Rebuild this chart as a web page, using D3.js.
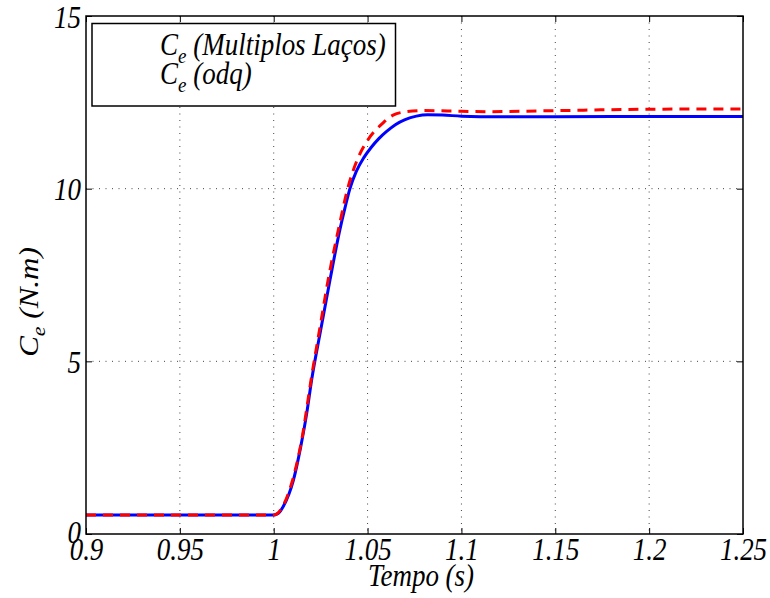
<!DOCTYPE html>
<html><head><meta charset="utf-8">
<script src="https://cdn.jsdelivr.net/npm/d3@7/dist/d3.min.js"></script>
<style>body{margin:0;background:#fff}svg{display:block}
.tx{font-family:"Liberation Serif","Times New Roman",Times,serif;font-style:italic;font-size:27px;fill:#000}
</style>
</head><body><svg id="c" width="770" height="598"></svg>
<script>
const xTicks = [0.9, 0.95, 1, 1.05, 1.1, 1.15, 1.2, 1.25];
const xTickLabels = ["0.9","0.95","1","1.05","1.1","1.15","1.2","1.25"];
const yTicks = [0, 5, 10, 15];
const yTickLabels = ["0","5","10","15"];
const seriesNames = ["(Multiplos Laços)", "(odq)"];
// Ce (Multiplos Laços) - blue solid
const tBlue = [0.9, 1.0, 1.0025, 1.005, 1.0105, 1.0144, 1.0176, 1.0202, 1.025, 1.03, 1.035, 1.038, 1.0406, 1.044, 1.048, 1.052, 1.056, 1.06, 1.065, 1.07, 1.076, 1.082, 1.09, 1.1, 1.12, 1.15, 1.2, 1.25];
const vBlue = [0.55, 0.55, 0.6, 0.79, 1.56, 2.53, 3.5, 4.46, 5.9, 7.36, 8.75, 9.45, 10.0, 10.5, 10.9, 11.2, 11.45, 11.65, 11.86, 12.0, 12.1, 12.14, 12.13, 12.1, 12.08, 12.08, 12.09, 12.09];
// Ce (odq) - red dashed
const tRed = [0.9, 1.0, 1.0025, 1.005, 1.01, 1.015, 1.02, 1.025, 1.029, 1.035, 1.0394, 1.045, 1.05, 1.058, 1.0636, 1.071, 1.08, 1.1, 1.115, 1.15, 1.2, 1.25];
const vRed = [0.55, 0.55, 0.62, 0.82, 1.55, 2.75, 4.5, 6.1, 7.36, 8.95, 10.0, 10.9, 11.4, 11.89, 12.13, 12.23, 12.26, 12.24, 12.23, 12.26, 12.3, 12.31];

const L = 86, R = 743, T = 16, B = 534;
const S = 1.15; // vertical stretch of the exported text
const svg = d3.select("#c");
const x = d3.scaleLinear().domain([0.9, 1.25]).range([L, R]);
const y = d3.scaleLinear().domain([0, 15]).range([B, T]);

const g = svg.append("g");
xTicks.slice(1, -1).forEach(t => g.append("line").attr("x1", x(t)).attr("x2", x(t)).attr("y1", T).attr("y2", B)
  .attr("stroke", "#444").attr("stroke-width", 1).attr("stroke-dasharray", "1,5.5"));
yTicks.slice(1, -1).forEach(t => g.append("line").attr("y1", y(t)).attr("y2", y(t)).attr("x1", L).attr("x2", R)
  .attr("stroke", "#444").attr("stroke-width", 1).attr("stroke-dasharray", "1,5.5"));

const tk = 6;
const xAxis = d3.axisBottom(x).tickValues(xTicks).tickFormat((d, i) => xTickLabels[i]).tickSizeInner(-tk).tickSizeOuter(0);
const yAxis = d3.axisLeft(y).tickValues(yTicks).tickFormat((d, i) => yTickLabels[i]).tickSizeInner(-tk).tickSizeOuter(0);
const ax = svg.append("g").attr("transform", `translate(0,${B})`).call(xAxis);
const ay = svg.append("g").attr("transform", `translate(${L},0)`).call(yAxis);
svg.append("g").attr("transform", `translate(0,${T})`).call(d3.axisTop(x).tickValues(xTicks).tickFormat("").tickSizeInner(-tk).tickSizeOuter(0));
svg.append("g").attr("transform", `translate(${R},0)`).call(d3.axisRight(y).tickValues(yTicks).tickFormat("").tickSizeInner(-tk).tickSizeOuter(0));
svg.selectAll(".domain").remove();
svg.selectAll(".tick line").attr("stroke", "#000");
[ax, ay].forEach(a => { a.attr("font-family", null).attr("font-size", null); a.selectAll("text").attr("class", "tx").attr("x", null).attr("y", null).attr("dy", null); });
ax.selectAll("text").attr("transform", `translate(0,25.5) scale(1,${S})`);
ay.selectAll("text").attr("transform", d => `translate(-5,${d === 0 ? 8 : 11}) scale(1,${S})`);

const line = d3.line().x(d => x(d[0])).y(d => y(d[1])).curve(d3.curveMonotoneX);
const pathG = svg.append("g");
pathG.append("path").datum(tBlue.map((t, i) => [t, vBlue[i]])).attr("d", line)
  .attr("fill", "none").attr("stroke", "#0000ff").attr("stroke-width", 3);
pathG.append("path").datum(tRed.map((t, i) => [t, vRed[i]])).attr("d", line)
  .attr("fill", "none").attr("stroke", "#ff0000").attr("stroke-width", 3).attr("stroke-dasharray", "10,7");

svg.append("rect").attr("x", L).attr("y", T).attr("width", R - L).attr("height", B - T)
  .attr("fill", "none").attr("stroke", "#000").attr("stroke-width", 1.5);

svg.append("rect").attr("x", 92).attr("y", 23.5).attr("width", 303.5).attr("height", 82.5)
  .attr("fill", "#fff").attr("stroke", "#000").attr("stroke-width", 1.5);
seriesNames.forEach((n, i) => {
  const tx = svg.append("text").attr("class", "tx").attr("transform", `translate(160,${55 + i * 29}) scale(1,${S})`);
  tx.append("tspan").text("C");
  tx.append("tspan").style("font-size", "19px").attr("dy", 7).text("e");
  tx.append("tspan").attr("dy", -7).text(" " + n);
});

svg.append("text").attr("class", "tx").attr("text-anchor", "middle")
  .attr("transform", `translate(421,586) scale(1,${S})`).text("Tempo (s)");
const yl = svg.append("text").attr("class", "tx").attr("text-anchor", "middle")
  .attr("transform", `translate(38,302) rotate(-90) scale(${S},1)`);
yl.append("tspan").text("C");
yl.append("tspan").style("font-size", "19px").attr("dy", 7).text("e");
yl.append("tspan").attr("dy", -7).text(" (N.m)");
</script></body></html>
